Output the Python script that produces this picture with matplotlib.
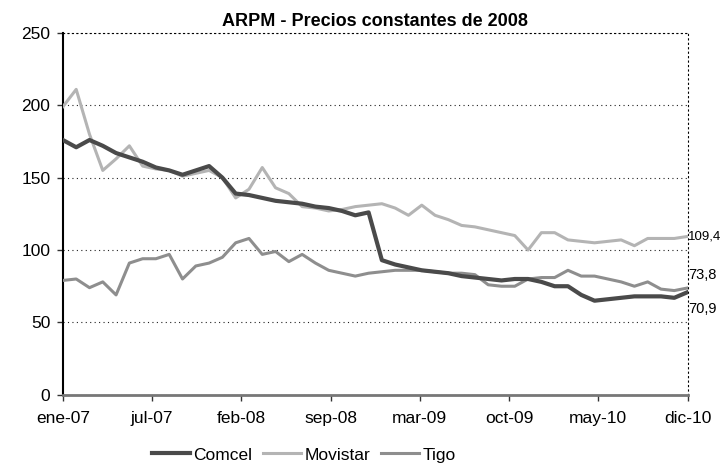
import numpy as np
import matplotlib
matplotlib.use('Agg')
import matplotlib.pyplot as plt

plt.rcParams['font.family'] = ['Liberation Sans', 'DejaVu Sans']

# monthly ARPM, ene-07 .. dic-10 (48 months)
comcel = [176, 171, 176, 172, 167, 164, 161, 157, 155, 152, 155, 158,
          150, 139, 138, 136, 134, 133, 132, 130, 129, 127, 124, 126,
          93, 90, 88, 86, 85, 84, 82, 81, 80, 79, 80, 80,
          78, 75, 75, 69, 65, 66, 67, 68, 68, 68, 67, 70.9]
movistar = [199, 211, 180, 155, 163, 172, 158, 156, 155, 151, 153, 155,
            150, 136, 142, 157, 143, 139, 130, 129, 127, 128, 130, 131,
            132, 129, 124, 131, 124, 121, 117, 116, 114, 112, 110, 100,
            112, 112, 107, 106, 105, 106, 107, 103, 108, 108, 108, 109.4]
tigo = [79, 80, 74, 78, 69, 91, 94, 94, 97, 80, 89, 91,
        95, 105, 108, 97, 99, 92, 97, 91, 86, 84, 82, 84,
        85, 86, 86, 86, 85, 84, 84, 83, 76, 75, 75, 80,
        81, 81, 86, 82, 82, 80, 78, 75, 78, 73, 72, 73.8]
xlabels = ['ene-07', 'jul-07', 'feb-08', 'sep-08', 'mar-09', 'oct-09', 'may-10', 'dic-10']

x = np.arange(len(comcel))

fig = plt.figure(figsize=(7.23, 4.70), dpi=100)
ax = fig.add_axes([0.087, 0.160, 0.864, 0.770])

ax.plot(x, movistar, color='#b4b4b4', lw=2.2, label='Movistar', zorder=3)
ax.plot(x, tigo, color='#8e8e8e', lw=2.2, label='Tigo', zorder=3)
ax.plot(x, comcel, color='#4a4a4a', lw=3, label='Comcel', zorder=4)

ax.set_xlim(0, len(x) - 1)
ax.set_ylim(0, 250)
ax.set_yticks([0, 50, 100, 150, 200, 250])
ax.set_xticks(np.linspace(0, len(x) - 1, len(xlabels)))
ax.set_xticklabels(xlabels)
ax.tick_params(axis='both', labelsize=12.5, length=4, width=1, color='#333333')
ax.tick_params(axis='x', pad=8)
ax.tick_params(axis='y', pad=5)

ax.grid(axis='y', linestyle=(0, (1, 3)), color='#222222', lw=0.8)
ax.spines['top'].set_linestyle((0, (1, 3)))
ax.spines['top'].set_linewidth(0.8)
ax.spines['right'].set_linestyle((0, (1, 3)))
ax.spines['right'].set_linewidth(0.8)
ax.spines['left'].set_linewidth(1.5)
ax.spines['bottom'].set_linewidth(2)
ax.spines['bottom'].set_color('#777777')

ax.set_title('ARPM - Precios constantes de 2008', fontsize=13, fontweight='bold', pad=5)

# end labels
ax.annotate('109,4', (x[-1], movistar[-1]), xytext=(0.5, 0), textcoords='offset points',
            va='center', ha='left', fontsize=9.5, annotation_clip=False)
ax.annotate('73,8', (x[-1], tigo[-1]), xytext=(0.5, 9), textcoords='offset points',
            va='center', ha='left', fontsize=10.5, annotation_clip=False)
ax.annotate('70,9', (x[-1], comcel[-1]), xytext=(0.5, -12), textcoords='offset points',
            va='center', ha='left', fontsize=10.5, annotation_clip=False)

h, l = ax.get_legend_handles_labels()
order = [2, 0, 1]
fig.legend([h[i] for i in order], [l[i] for i in order], loc='center',
           bbox_to_anchor=(0.42, 0.032), ncol=3, frameon=False, fontsize=12.5,
           handlelength=2.2, handletextpad=0.2, columnspacing=0.6)

fig.savefig('out.png', dpi=100)
